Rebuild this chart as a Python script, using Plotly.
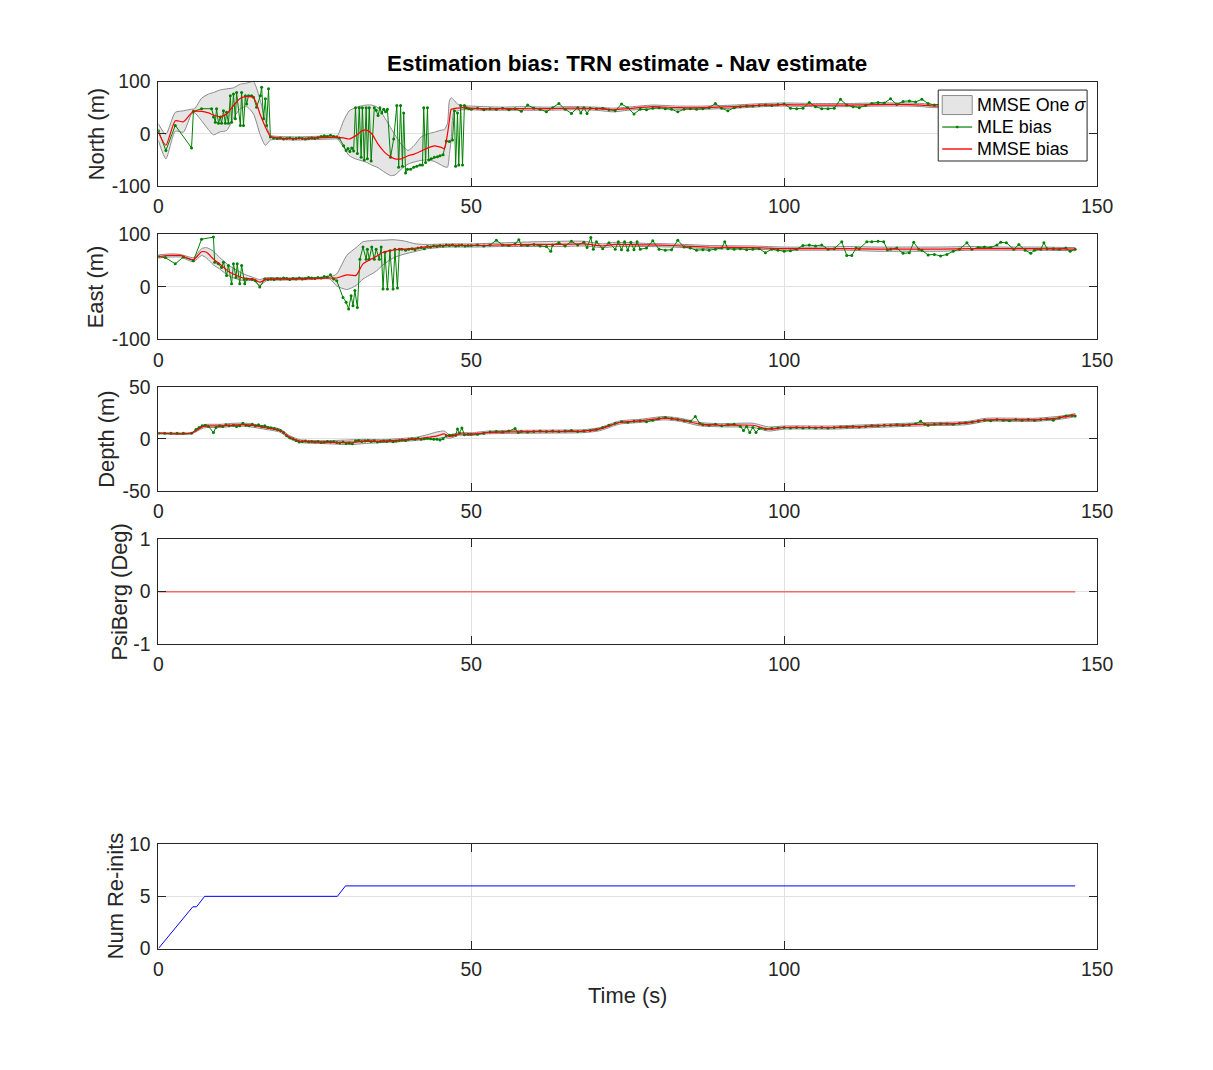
import plotly.graph_objects as go

# ---------------- data ----------------
# North: (t, mmse, lower, upper)
N_mmse_pts = [
    (0, 3, -13, 19), (1.2, -22, -48, -1), (2.7, 25, 5, 41), (4.0, 23, 3, 44), (5.3, 40, 38, 47),
    (5.8, 43, 40, 48), (6.9, 43, 25, 68), (8.0, 40, 8, 76), (8.8, 36, -2, 79), (9.9, 33, 4, 84),
    (10.9, 38, 6, 86), (12.0, 54, 30, 88), (13.1, 68, 48, 95), (14.1, 71, 52, 97), (15.2, 70, 38, 100),
    (16.3, 36, -3, 63), (17.1, 13, -22, 25), (17.9, -5, -12, -3), (19.0, -8, -11, -5), (22.0, -9, -12, -6),
    (25.0, -8, -11, -5), (28.0, -7, -10, -4), (28.6, -7, -10, -4), (29.6, -8, -26, 25), (30.5, -10, -42, 44),
    (31.5, -4, -48, 50), (32.6, 6, -52, 54), (33.3, 7, -55, 55), (34.1, 0, -60, 55), (35.1, -20, -65, 50),
    (36.2, -36, -74, 30), (37.1, -44, -80, 12), (37.8, -48, -79, -2), (38.8, -48, -68, -20), (39.9, -42, -58, -32),
    (40.9, -39, -54, -22), (42.0, -33, -51, -6), (43.1, -27, -50, 0), (44.1, -23, -53, 3), (45.2, -26, -60, 7),
    (45.7, -29, -63, 8), (46.2, 0, -64, 20), (46.5, 25, -40, 63), (46.8, 47, -10, 69), (47.2, 48, 41, 65),
    (47.8, 49, 44, 57), (48.5, 50, 46, 54), (50, 49, 46, 53), (52, 48, 45, 52), (55, 48, 45, 51),
    (58, 48, 45, 52), (62, 48, 45, 51), (66, 49, 46, 52), (70, 48, 45, 51), (72.7, 46, 42, 49),
    (75, 48, 45, 51), (79, 52, 48, 55), (83, 50, 47, 53), (87, 50, 47, 53), (92, 52, 49, 55),
    (96.7, 55, 52, 58), (100, 56, 53, 59), (105, 55, 52, 58), (110, 55, 52, 58), (115, 56, 53, 59),
    (120, 56, 53, 59), (122, 55, 52, 58), (124, 53, 50, 56), (128, 55, 52, 58), (135, 56, 53, 59),
    (140, 57, 54, 60), (146.5, 56, 53, 59),
]
# North MLE: (t, value)
N_mle_pts = [
    (0, 6), (1.2, -32), (2.7, 16), (5.3, -27), (5.6, 43), (6.9, 48), (8.5, 48), (8.8, 32), (9.1, 22),
    (9.3, 48), (9.6, 20), (9.9, 32), (10.1, 20), (10.4, 44), (10.7, 20), (10.9, 41), (11.2, 20),
    (11.5, 73), (11.7, 22), (12.0, 76), (12.3, 29), (12.5, 79), (13.1, 16), (13.3, 79), (13.6, 16),
    (13.9, 73), (14.1, 57), (14.4, 73), (14.9, 73), (15.2, 70), (15.7, 51), (16.3, 73), (16.5, 89),
    (16.8, 29), (17.1, 67), (17.3, 16), (17.6, 86), (17.9, -6), (18.4, -8), (19, -9), (19.5, -8),
    (20, -10), (20.5, -9), (21, -8), (21.5, -10), (22, -9), (22.5, -8), (23, -9), (23.5, -10),
    (24, -9), (24.5, -8), (25, -9), (25.5, -7), (26, -5), (26.5, -4), (27, -5), (27.5, -3), (28, -5),
    (28.5, -6), (28.9, -8), (29.6, -23), (30.0, -32), (30.3, -28), (30.6, -34), (30.9, -27),
    (31.2, -33), (31.5, 50), (31.8, -38), (32.1, 50), (32.4, -45), (32.6, 50), (32.9, -50),
    (33.2, 50), (33.4, -48), (33.7, 50), (34.0, -52), (34.5, 50), (34.8, 45), (35.1, 35), (35.4, 50),
    (35.7, 40), (36.0, 47), (36.3, 42), (36.6, 47), (37.1, -45), (37.6, -10), (38.1, 54), (38.4, -64),
    (38.7, 54), (39.0, -62), (39.2, 40), (39.5, -75), (39.8, -68), (40.3, -68), (40.8, -64),
    (41.3, -62), (41.8, -60), (42.2, -60), (42.4, 50), (42.7, -55), (43.0, 50), (43.2, -50),
    (43.6, -48), (44.1, -45), (44.6, -44), (45.0, -42), (45.5, -40), (46.0, -14), (46.5, -15),
    (47.0, -12), (47.3, 44), (47.5, -62), (47.8, 40), (48.0, -60), (48.3, 54), (48.6, -60),
    (48.9, 54), (49.2, 50), (49.6, 48),
    (50, 47), (51, 49), (52, 46), (53, 48), (54, 47), (55, 49), (56, 46), (57, 48), (58, 43), (59, 55),
    (60, 49), (61, 47), (62, 42), (63, 50), (64, 58), (65, 47), (66, 39), (67, 50), (67.5, 40),
    (68, 50), (68.5, 39), (69, 49), (70, 48), (71, 49), (72, 46), (73, 44), (74, 57), (75, 50),
    (76, 38), (77, 47), (78, 46), (79, 49), (80, 50), (81, 48), (82, 47), (83, 42), (84, 47),
    (85, 48), (86, 47), (87, 48), (88, 50), (89, 58), (90, 49), (91, 44), (92, 50), (93, 52),
    (94, 53), (95, 53), (96, 54), (97, 55), (98, 54), (99, 56), (100, 57), (101, 49), (102, 48),
    (103, 49), (104, 60), (105, 52), (106, 48), (107, 48), (108, 49), (109, 66), (110, 55),
    (111, 52), (112, 50), (113, 54), (114, 58), (115, 60), (116, 59), (117, 67), (118, 56),
    (119, 62), (120, 63), (121, 61), (122, 66), (123, 58), (124, 55), (125, 57), (126, 58),
    (127, 56), (128, 60), (130, 57), (132, 58), (134, 59), (136, 57), (138, 58), (140, 60),
    (142, 58), (144, 59), (146.5, 57),
]

# East: (t, mmse, lower, upper)
E_mmse_pts = [
    (0, 58, 55, 61), (1.9, 60, 57, 63), (3.5, 60, 57, 62), (5.6, 52, 48, 56), (6.9, 67, 60, 73),
    (7.7, 66, 55, 75), (8.8, 53, 42, 68), (9.8, 44, 34, 56), (11.4, 28, 20, 40), (13.6, 17, 12, 25),
    (15.2, 15, 12, 18), (16.2, 9, 3, 14), (17.3, 15, 12, 18), (19.9, 15, 13, 17), (24, 16, 14, 18),
    (27.4, 17, 15, 19), (28.5, 17, 2, 25), (30.1, 23, -5, 60), (31.6, 22, 3, 75), (32.7, 44, 15, 86),
    (34.8, 58, 30, 89), (35.9, 66, 42, 89), (37.5, 70, 55, 90), (39.1, 72, 62, 88), (41.2, 74, 68, 82),
    (43, 77, 73, 81), (46.5, 79, 76, 82), (50, 79, 76, 82), (55, 80, 77, 84), (60, 81, 77, 86),
    (64, 81, 77, 87), (68, 82, 78, 87), (71, 78, 75, 82), (73, 81, 77, 85), (78, 80, 77, 83),
    (82, 79, 76, 82), (88, 76, 73, 79), (95, 75, 72, 78), (100, 73, 70, 76), (105, 73, 70, 76),
    (110, 73, 70, 77), (115, 72, 68, 76), (120, 72, 68, 76), (125, 72, 68, 76), (130, 73, 70, 77),
    (135, 73, 70, 76), (140, 73, 70, 76), (146.5, 72, 69, 75),
]
E_mle_pts = [
    (0, 58), (1.1, 56), (2.7, 44), (4.0, 57), (5.6, 50), (6.9, 91), (8.8, 95), (9.0, 47), (9.6, 44),
    (10.1, 37), (10.4, 47), (10.9, 22), (11.2, 41), (11.7, 6), (12.0, 44), (12.4, 18), (12.6, 44),
    (13.0, 6), (13.3, 41), (13.7, 15), (13.8, 6), (14.1, 15), (15.0, 14), (15.5, 12), (16.2, 0),
    (17.0, 15), (17.5, 14), (18, 15), (18.5, 14), (19, 16), (19.5, 15), (20, 17), (20.5, 16),
    (21, 14), (21.5, 16), (22, 15), (22.5, 17), (23, 15), (23.5, 16), (24, 18), (24.5, 17), (25, 16),
    (25.5, 18), (26, 17), (26.5, 20), (27, 19), (27.5, 23), (28, 15), (28.5, 12), (29.5, -20),
    (30.0, -29), (30.4, -42), (30.8, -17), (31.1, -36), (31.4, -7), (31.8, -39), (32.2, 53),
    (32.7, 76), (33.2, 53), (33.4, 72), (33.7, 53), (34.1, 76), (34.5, 53), (34.8, 72), (35.3, 53),
    (35.6, 76), (35.9, -4), (36.2, 66), (36.6, -4), (37.0, 69), (37.5, -4), (37.8, 72), (38.2, -2),
    (38.5, 72), (38.9, 72), (39.5, 70), (40, 72), (40.5, 73), (41, 71), (41.5, 74), (42, 75),
    (42.5, 73), (43, 77), (43.5, 76), (44, 78), (44.5, 77), (45, 79), (45.5, 78), (46, 80),
    (46.5, 79), (47, 80), (47.5, 78), (48, 79), (48.5, 80), (49, 78), (49.5, 79),
    (50, 79), (51, 80), (52, 78), (53, 80), (54, 89), (55, 80), (56, 79), (57, 82), (57.6, 90),
    (58, 80), (59, 79), (60, 81), (61, 78), (62, 77), (62.7, 68), (63, 80), (64, 84), (65, 78),
    (66, 87), (67, 80), (68, 85), (68.5, 75), (69.1, 94), (69.5, 72), (70, 86), (71, 73), (72, 84),
    (73, 72), (73.5, 86), (74, 71), (74.5, 86), (75, 70), (75.5, 85), (76, 71), (76.5, 86), (77, 72),
    (78, 74), (79, 88), (80, 72), (81, 70), (82, 71), (83, 89), (84, 76), (85, 74), (86, 70),
    (87, 71), (88, 70), (89, 72), (90, 74), (90.5, 86), (91, 73), (92, 72), (93, 73), (94, 71),
    (95, 72), (96, 73), (97, 65), (98, 72), (99, 70), (100, 68), (101, 69), (102, 72), (103, 79),
    (104, 80), (105, 78), (106, 80), (107, 72), (108, 73), (109.2, 86), (110, 60), (110.8, 60),
    (111.5, 74), (112, 73), (113.2, 86), (114, 86), (115, 87), (115.9, 86), (116.5, 71), (117, 72),
    (118, 74), (119, 64), (120, 65), (120.7, 85), (121.5, 72), (122, 70), (123, 61), (124, 62),
    (125, 59), (126, 62), (127, 68), (128, 72), (129.2, 84), (130, 72), (131, 75), (132, 76),
    (133, 75), (134, 80), (134.6, 85), (135.5, 84), (136.7, 72), (137.5, 81), (138.5, 70),
    (139.4, 64), (140, 70), (141, 72), (141.5, 84), (142, 73), (143, 73), (144, 72), (145, 74),
    (145.7, 68), (146.5, 72),
]

# Depth: (t, mmse, lower, upper)
D_mmse_pts = [
    (0, 5.4, 4.8, 6.0), (5.3, 5.4, 4.8, 6.0), (7.2, 12, 10.5, 13.5), (10, 12.5, 11, 14),
    (12, 13.4, 12, 15), (14.1, 13.7, 12, 15), (16.8, 11, 9.5, 12.5), (19.4, 8, 6.5, 9.5),
    (21, 1.6, 0, 3), (22.6, -2.2, -3.5, -0.8), (26.3, -3.2, -4.5, -1.8), (30.6, -3.2, -5.5, -1),
    (33, -2.5, -4.5, -0.5), (35.9, -2.2, -3.5, -0.8), (38, -1.5, -3, 0), (41.2, 0, -1.5, 1.5),
    (43, 1.5, -0.5, 4), (44.4, 2.6, 0, 6.5), (45.7, 4.8, 1.5, 7.5), (46.5, 2.2, 0.5, 4),
    (48.1, 4.8, 3.5, 6), (50, 4.5, 3.2, 5.8), (52.5, 6.1, 4.8, 7.4), (56.3, 6.7, 5.3, 8.1),
    (62.8, 7, 5.6, 8.4), (68, 7.4, 6, 8.8), (70.5, 9.3, 7.8, 10.8), (73.7, 15.7, 14.2, 17.2),
    (77, 17.3, 15.8, 18.8), (80.8, 19.9, 18.3, 21.5), (83.4, 18.3, 16.8, 19.8), (86.6, 14.1, 12.5, 15.7),
    (89.8, 13.1, 11.6, 14.6), (95, 13.1, 11, 15), (97.5, 9.3, 7.5, 11.5), (100.1, 10.9, 9.4, 12.4),
    (107.8, 10.9, 9.4, 12.4), (117.5, 13.1, 11.6, 14.6), (122.6, 14.1, 12.6, 15.6), (129.1, 15.1, 13.6, 16.6),
    (132.3, 18.3, 16.8, 19.8), (140, 18.3, 16.8, 19.8), (143.9, 20.2, 18.7, 21.7), (146.5, 22.8, 21.3, 24.3),
]
D_mle_pts = [
    (0, 5.4), (1, 5.4), (2, 5.4), (3, 5.4), (4, 5.4), (5.3, 5.4), (6, 9), (6.5, 11), (7, 12.5),
    (7.5, 13), (8, 12), (8.8, 6), (9.2, 11), (9.8, 12.5), (10.3, 12), (10.8, 13.5), (11.3, 12.5),
    (12, 13), (12.5, 12), (13, 12.5), (13.5, 15), (14, 13), (14.5, 12.5), (15, 14), (15.5, 12.5),
    (16, 13.5), (16.5, 12), (17, 12.5), (17.5, 11), (18, 10.5), (18.5, 10), (19, 9), (19.5, 8),
    (20, 6), (20.5, 3), (21, 1), (21.5, 0), (22, -1.5), (22.5, -3), (23, -2.5), (23.5, -2),
    (24, -2.8), (24.5, -2.5), (25, -3), (25.5, -2.5), (26, -3.5), (26.5, -3.2), (27, -2.5),
    (27.5, -3), (28, -2.8), (28.5, -3.5), (29, -4), (29.5, -3), (30, -4.5), (30.5, -4), (31, -4.8),
    (31.5, -2), (32, -1.5), (32.5, -2.5), (33, -2), (33.5, -1.5), (34, -2.5), (34.5, -1.8), (35, -3),
    (35.5, -2.5), (36, -2), (36.5, -2.5), (37, -1.5), (37.5, -2.8), (38, -2), (38.5, -1.5), (39, -1),
    (39.5, -1.5), (40, -0.5), (40.5, 0), (41, -0.5), (41.5, 0.5), (42, -0.5), (42.5, 0), (43, 0.5),
    (43.5, 0), (44, -0.5), (44.5, -0.5), (45, -1), (45.5, 0), (46, 3), (46.5, 3.5), (47, 3.5),
    (47.5, 3.5), (47.8, 9.5), (48.1, 5.5), (48.5, 10.5), (48.9, 4), (49.5, 4.5), (50, 4.5),
    (51, 4.5), (52, 5.5), (53, 6.5), (54, 7), (55, 6.5), (56, 7.5), (57, 10), (57.5, 6), (58, 7),
    (59, 6.5), (60, 7), (61, 7.5), (62, 7), (63, 7.5), (64, 7), (65, 7.5), (66, 8), (67, 7),
    (68, 7.5), (69, 8), (70, 9), (71, 11), (72, 13), (73, 15), (74, 16.5), (75, 16), (76, 17),
    (77, 17.5), (78, 16.5), (79, 18), (80, 19.5), (81, 20.5), (82, 19.5), (83, 18.5), (84, 17.5),
    (85, 17), (85.8, 21.5), (86.5, 15), (87, 13.5), (88, 13), (89, 14), (90, 12.5), (91, 13.5),
    (92, 14), (93, 12), (93.5, 8), (94, 12), (94.5, 6), (95, 11), (95.5, 6), (96, 10), (97, 9.5),
    (98, 10), (99, 10.5), (100, 11), (101, 10.5), (102, 11), (103, 10.5), (104, 11), (105, 10.5),
    (106, 11), (107, 10.5), (108, 11), (109, 11.5), (110, 11.5), (111, 12), (112, 11.5), (113, 12),
    (114, 12.5), (115, 12.5), (116, 13), (117, 13), (118, 13.5), (119, 13), (120, 13.5),
    (121, 14.5), (121.8, 17), (122.5, 14), (123, 13), (124, 14), (125, 14.5), (126, 14.5),
    (127, 14), (128, 15), (129, 15.5), (130, 16), (131, 17), (132, 18), (133, 17.5), (134, 18.5),
    (135, 18), (136, 17.5), (137, 18.5), (138, 18), (139, 18.5), (140, 18), (141, 18.5), (142, 19),
    (143, 18), (144, 20.5), (145, 22), (146, 22.5), (146.5, 22),
]

# PsiBerg
psi_t = [0, 146.5]
psi_v = [0, 0]

# Num re-inits
reinit_t = [0, 5.5, 6.1, 7.4, 28.6, 29.9, 146.5]
reinit_v = [0, 4, 4, 5, 5, 6, 6]

title_text = "Estimation bias: TRN estimate - Nav estimate"
ylabels = ["North (m)", "East (m)", "Depth (m)", "PsiBerg (Deg)", "Num Re-inits"]
xlabel = "Time (s)"
xticks = [0, 50, 100, 150]
yticks = [[-100, 0, 100], [-100, 0, 100], [-50, 0, 50], [-1, 0, 1], [0, 5, 10]]
legend_names = ["MMSE One <i>σ</i>", "MLE bias", "MMSE bias"]

# ---------------- figure ----------------
W, H = 1213, 1070
# the photographed page comes out slightly scaled; map target pixels back
SX, OX = 0.9835, 4.0
SY, OY = 0.980, 9.9
FS = 1 / 0.982


def px(x):
    return (x - OX) / SX / W


def py(y):
    return 1 - (y - OY) / SY / H


FONT = "Liberation Sans, Arial, Helvetica, sans-serif"
TXT = "#262626"
GREEN = "#008000"
RED = "#ff0000"
BAND_FILL = "#e5e5e5"
BAND_EDGE = "#8a8a8a"

x0, x1 = px(157.5), px(1097)
boxes = [(80.5, 185), (233.5, 338.5), (386, 490), (538.5, 643.3), (843.5, 948)]
ylabel_x = [95.5, 95.5, 106, 119, 114]

fig = go.Figure()


def add_panel(i, mmse_pts, mle_pts):
    xa = "x" if i == 0 else f"x{i+1}"
    ya = "y" if i == 0 else f"y{i+1}"
    t = [p[0] for p in mmse_pts]
    m = [p[1] for p in mmse_pts]
    lo = [p[2] for p in mmse_pts]
    hi = [p[3] for p in mmse_pts]
    tm = [p[0] for p in mle_pts]
    vm = [p[1] for p in mle_pts]
    fig.add_trace(go.Scatter(x=t, y=lo, xaxis=xa, yaxis=ya, mode="lines",
                             line=dict(color=BAND_EDGE, width=1, shape="spline", smoothing=0.6),
                             showlegend=False, hoverinfo="skip"))
    fig.add_trace(go.Scatter(x=t, y=hi, xaxis=xa, yaxis=ya, mode="lines", fill="tonexty",
                             fillcolor=BAND_FILL, name=legend_names[0],
                             line=dict(color=BAND_EDGE, width=1, shape="spline", smoothing=0.6),
                             showlegend=False))
    fig.add_trace(go.Scatter(x=tm, y=vm, xaxis=xa, yaxis=ya, mode="lines+markers",
                             name=legend_names[1], line=dict(color=GREEN, width=1),
                             marker=dict(color=GREEN, size=3), showlegend=False))
    fig.add_trace(go.Scatter(x=t, y=m, xaxis=xa, yaxis=ya, mode="lines", name=legend_names[2],
                             line=dict(color=RED, width=1.2, shape="spline", smoothing=0.6),
                             showlegend=False))


add_panel(0, N_mmse_pts, N_mle_pts)
add_panel(1, E_mmse_pts, E_mle_pts)
add_panel(2, D_mmse_pts, D_mle_pts)

fig.add_trace(go.Scatter(x=psi_t, y=psi_v, xaxis="x4", yaxis="y4", mode="lines",
                         line=dict(color="#f26b6b", width=1.5), showlegend=False))
fig.add_trace(go.Scatter(x=reinit_t, y=reinit_v, xaxis="x5", yaxis="y5", mode="lines",
                         line=dict(color="#0000ff", width=1), showlegend=False))

axis_common = dict(showline=True, linecolor=TXT, linewidth=1, mirror="ticks",
                   ticks="inside", ticklen=8, tickwidth=1, tickcolor=TXT,
                   showgrid=True, gridcolor="#e1e1e1", gridwidth=1, zeroline=False,
                   tickfont=dict(family=FONT, size=19 * FS, color=TXT))

layout = dict(width=W, height=H, margin=dict(l=0, r=0, t=0, b=0, pad=0),
              paper_bgcolor="white", plot_bgcolor="white",
              font=dict(family=FONT, color=TXT), showlegend=False)

annotations = []
for i, (top, bot) in enumerate(boxes):
    key = "" if i == 0 else str(i + 1)
    yd = [py(bot), py(top)]
    yt = yticks[i]
    layout["xaxis" + key] = dict(axis_common, domain=[x0, x1], range=[0, 150],
                                 tickvals=xticks, ticktext=[str(v) for v in xticks],
                                 ticklabelstandoff=3, anchor="y" + key)
    layout["yaxis" + key] = dict(axis_common, domain=yd, range=[yt[0], yt[-1]],
                                 tickvals=yt, ticktext=[str(v) for v in yt],
                                 ticklabelstandoff=3, anchor="x" + key)
    annotations.append(dict(text=ylabels[i], xref="paper", yref="paper",
                            x=px(ylabel_x[i]), y=py((top + bot) / 2),
                            xanchor="center", yanchor="middle", textangle=-90, showarrow=False,
                            font=dict(family=FONT, size=21.5 * FS, color=TXT)))

annotations.append(dict(text="<b>" + title_text + "</b>", xref="paper", yref="paper",
                        x=px(627), y=py(62), xanchor="center", yanchor="middle",
                        showarrow=False, font=dict(family=FONT, size=22 * FS, color="black")))
annotations.append(dict(text=xlabel, xref="paper", yref="paper",
                        x=px(627), y=py(995), xanchor="center", yanchor="middle",
                        showarrow=False, font=dict(family=FONT, size=21.5 * FS, color=TXT)))

# legend (MATLAB style box drawn in paper space)
shapes = [
    dict(type="rect", xref="paper", yref="paper", x0=px(938), x1=px(1087), y0=py(160), y1=py(89),
         fillcolor="white", line=dict(color=TXT, width=1), layer="above"),
    dict(type="rect", xref="paper", yref="paper", x0=px(942), x1=px(972), y0=py(113.5), y1=py(94.5),
         fillcolor=BAND_FILL, line=dict(color=BAND_EDGE, width=1), layer="above"),
    dict(type="line", xref="paper", yref="paper", x0=px(942), x1=px(972), y0=py(126), y1=py(126),
         line=dict(color=GREEN, width=1.2), layer="above"),
    dict(type="circle", xref="paper", yref="paper", x0=px(955.6), x1=px(958.4), y0=py(127.4), y1=py(124.6),
         fillcolor=GREEN, line=dict(color=GREEN, width=0), layer="above"),
    dict(type="line", xref="paper", yref="paper", x0=px(942), x1=px(972), y0=py(148), y1=py(148),
         line=dict(color=RED, width=1.4), layer="above"),
]
for name, yc in zip(legend_names, [104, 126, 148]):
    annotations.append(dict(text=name, xref="paper", yref="paper", x=px(975), y=py(yc),
                            xanchor="left", yanchor="middle", showarrow=False,
                            font=dict(family=FONT, size=17.6 * FS, color="black")))

layout["annotations"] = annotations
layout["shapes"] = shapes

fig.update_layout(**layout)
fig.write_html(
    "out.html",
    config={"displayModeBar": False},
    post_script=("document.documentElement.style.margin='0';"
                 "document.documentElement.style.padding='0';"
                 "document.documentElement.style.overflow='hidden';"
                 "document.body.style.margin='0';document.body.style.padding='0';"
                 "document.body.style.overflow='hidden';"),
)
